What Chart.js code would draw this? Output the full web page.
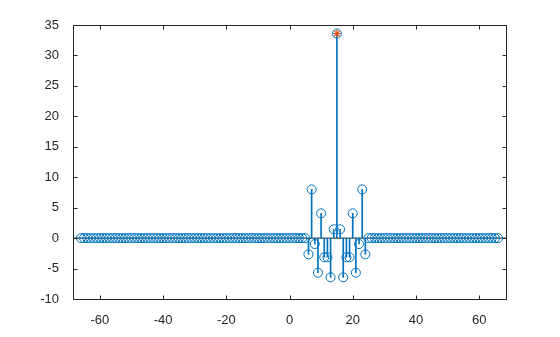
<!DOCTYPE html>
<html>
<head>
<meta charset="utf-8">
<script src="https://cdn.jsdelivr.net/npm/chart.js@4"></script>
<style>
  html, body { margin: 0; padding: 0; background: #fff; }
  #wrap { width: 560px; height: 337px; }
</style>
</head>
<body>
<div id="wrap"><canvas id="chartCanvas" width="560" height="337"></canvas></div>
<script>
// sample range (all samples are zero outside the listed ones)
const xFirst = -66;
const xLast = 66;
const nonZeroX = [6, 7, 8, 9, 10, 11, 12, 13, 14, 15, 16, 17, 18, 19, 20, 21, 22, 23, 24];
const nonZeroY = [-2.66, 8.0, -0.97, -5.68, 4.07, -3.15, -3.15, -6.44, 1.45, 33.6,
                  1.45, -6.44, -3.15, -3.15, 4.07, -5.68, -0.97, 8.0, -2.66];
const peakX = 15;
const peakY = 33.6;
const xTicks = [-60, -40, -20, 0, 20, 40, 60];
const yTicks = [-10, -5, 0, 5, 10, 15, 20, 25, 30, 35];

const BLUE = "#0072BD";
const ORANGE = "#D95319";
const INK = "#262626";

const samples = [];
for (let x = xFirst; x <= xLast; x++) {
    const i = nonZeroX.indexOf(x);
    samples.push({ x: x, y: i >= 0 ? nonZeroY[i] : 0 });
}

// box round the plot with ticks pointing inward, on all four sides
const boxTicks = {
    id: "boxTicks",
    afterDraw(chart) {
        const g = chart.ctx;
        const a = chart.chartArea;
        const sx = chart.scales.x;
        const sy = chart.scales.y;
        const len = 4;
        const L = Math.round(a.left) + 0.5, R = Math.round(a.right) + 0.5;
        const T = Math.round(a.top) + 0.5, B = Math.round(a.bottom) + 0.5;
        g.save();
        g.strokeStyle = INK;
        g.lineWidth = 1;
        g.beginPath();
        g.moveTo(L, T); g.lineTo(R, T); g.lineTo(R, B); g.lineTo(L, B); g.closePath();
        xTicks.forEach(v => {
            const px = Math.round(sx.getPixelForValue(v)) + 0.5;
            g.moveTo(px, B); g.lineTo(px, B - len);
            g.moveTo(px, T); g.lineTo(px, T + len);
        });
        yTicks.forEach(v => {
            const py = Math.round(sy.getPixelForValue(v)) + 0.5;
            g.moveTo(L, py); g.lineTo(L + len, py);
            g.moveTo(R, py); g.lineTo(R - len, py);
        });
        g.stroke();
        g.restore();
    }
};

const ctx = document.getElementById("chartCanvas").getContext("2d");
new Chart(ctx, {
    type: "scatter",
    data: {
        datasets: [
            {
                type: "line",
                label: "baseline",
                data: [{ x: -68.5, y: 0 }, { x: 68.5, y: 0 }],
                borderColor: INK,
                borderWidth: 1,
                pointRadius: 0,
                order: 4
            },
            {
                type: "bar",
                label: "stems",
                data: samples,
                backgroundColor: BLUE,
                barThickness: 1,
                borderWidth: 0,
                order: 3
            },
            {
                type: "scatter",
                label: "samples",
                data: samples,
                pointStyle: "circle",
                pointRadius: 4.5,
                borderColor: BLUE,
                backgroundColor: "rgba(0,0,0,0)",
                borderWidth: 1,
                order: 2
            },
            {
                type: "scatter",
                label: "peak",
                data: [{ x: peakX, y: peakY }],
                pointStyle: "star",
                pointRadius: 4,
                borderColor: ORANGE,
                backgroundColor: ORANGE,
                borderWidth: 1.2,
                order: 1
            }
        ]
    },
    options: {
        responsive: false,
        animation: false,
        layout: { padding: { left: 0, right: 54, top: 25, bottom: 0 } },
        plugins: {
            legend: { display: false },
            tooltip: { enabled: false }
        },
        scales: {
            x: {
                type: "linear",
                offset: false,
                min: -68.5,
                max: 68.5,
                grid: { display: false, offset: false },
                border: { display: false },
                afterBuildTicks: s => { s.ticks = xTicks.map(v => ({ value: v })); },
                afterFit: s => { s.height = 38; },
                ticks: {
                    color: INK,
                    padding: 6,
                    maxRotation: 0,
                    font: { family: "Liberation Sans", size: 13 }
                }
            },
            y: {
                type: "linear",
                min: -10,
                max: 35,
                grid: { display: false },
                border: { display: false },
                afterBuildTicks: s => { s.ticks = yTicks.map(v => ({ value: v })); },
                afterFit: s => { s.width = 73; },
                ticks: {
                    color: INK,
                    padding: 6,
                    font: { family: "Liberation Sans", size: 13 }
                }
            }
        }
    },
    plugins: [boxTicks]
});
</script>
</body>
</html>
